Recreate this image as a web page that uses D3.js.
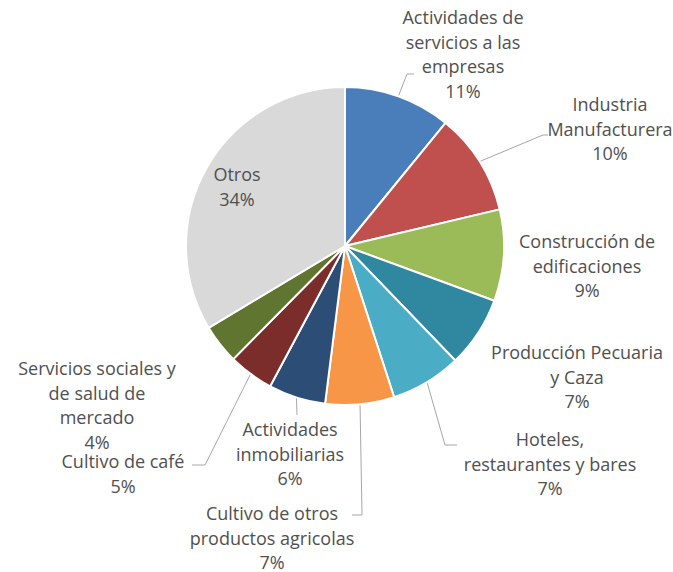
<!DOCTYPE html>
<html>
<head>
<meta charset="utf-8">
<script src="https://cdn.jsdelivr.net/npm/d3@7"></script>
<style>
  body { margin: 0; background: #fff; }
  text { font-family: "Open Sans", sans-serif; fill: #505050; }
</style>
</head>
<body>
<svg id="pie" width="673" height="572"></svg>
<script>
// sector names (line breaks as in the original labels)
let sectors = [
    ['Actividades de', 'servicios a las', 'empresas'],
    ['Industria', 'Manufacturera'],
    ['Construcción de', 'edificaciones'],
    ['Producción Pecuaria', 'y Caza'],
    ['Hoteles,', 'restaurantes y bares'],
    ['Cultivo de otros', 'productos agricolas'],
    ['Actividades', 'inmobiliarias'],
    ['Cultivo de café'],
    ['Servicios sociales y', 'de salud de', 'mercado'],
    ['Otros']
]
// share of each sector, percent
let shares = [10.9, 10.4, 9.3, 7.2, 7.2, 7.0, 5.8, 4.6, 4.0, 33.6]

let colors = ['#4a7ebb', '#c0504d', '#9bbb59', '#2f87a0', '#4bacc6',
              '#f79646', '#2c4d75', '#7a2d2b', '#5f7530', '#d9d9d9']

function main() {
    let svg = d3.select('#pie'),
        cx = 345, cy = 246, radius = 159,
        lineH = 24.5

    // label centres, relative to the pie centre (first line)
    let labelPos = [
        [118, -228], [265, -141], [242, -4], [232, 107],
        [205, 194], [-73, 268], [-55, 184], [-222, 216],
        [-248, 123], [-108, -71]
    ]
    // leader elbows / ends, relative to the pie centre (null = no leader)
    let leaders = [
        [[62, -172], [69, -172]],
        [[198, -111], [203, -111]],
        null,
        null,
        [[100, 199], [112, 199]],
        [[17, 269], [7, 269]],
        [[-48, 169]],
        [[-140, 219], [-153, 219]],
        null,
        null
    ]

    let pie = d3.pie().sort(null).value(d => d)
    let arcs = pie(shares)
    let arc = d3.arc().innerRadius(0).outerRadius(radius)
    let edge = d3.arc().innerRadius(radius + 1).outerRadius(radius + 1)
    let total = d3.sum(shares)
    let fmt = d3.format('.0%')

    let g = svg.append('g').attr('transform', 'translate(' + cx + ',' + cy + ')')

    g.selectAll('path.slice')
        .data(arcs)
        .enter()
        .append('path')
        .attr('class', 'slice')
        .attr('d', arc)
        .attr('fill', (d, i) => colors[i])
        .attr('stroke', '#fff')
        .attr('stroke-width', 2)
        .attr('stroke-linejoin', 'round')

    arcs.forEach((d, i) => {
        if (!leaders[i]) return
        let pts = [edge.centroid(d)].concat(leaders[i])
        g.append('path')
            .attr('d', d3.line()(pts))
            .attr('fill', 'none')
            .attr('stroke', '#a6a6a6')
            .attr('stroke-width', 1)
    })

    arcs.forEach((d, i) => {
        let lines = sectors[i].concat([fmt(d.value / total)])
        let t = g.append('text')
            .attr('text-anchor', 'middle')
            .attr('font-size', 18)
            .attr('x', labelPos[i][0])
            .attr('y', labelPos[i][1])
        lines.forEach((s, k) => {
            t.append('tspan')
                .attr('x', labelPos[i][0])
                .attr('dy', k === 0 ? '0.35em' : lineH)
                .text(s)
        })
    })
}

main()
</script>
</body>
</html>
